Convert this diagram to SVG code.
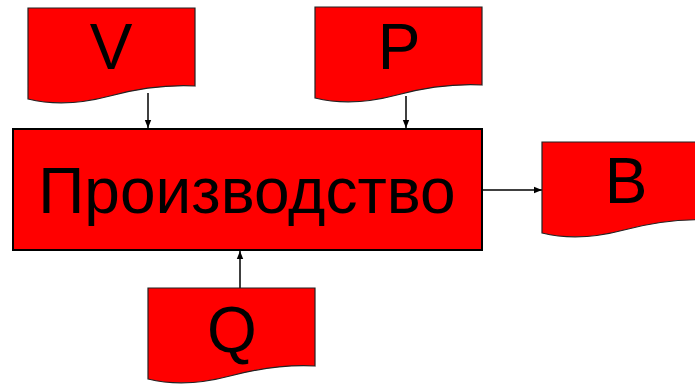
<svg xmlns="http://www.w3.org/2000/svg" width="695" height="387" viewBox="0 0 695 387">
<style>
.doc{fill:#ff0000;stroke:#222;stroke-width:1.2}
.box{fill:#ff0000;stroke:#000;stroke-width:2}
.lbl{font-family:"Liberation Sans",Arial,sans-serif;font-size:64px;fill:#000;text-anchor:middle}
.conn{stroke:#000;stroke-width:1.5;fill:none;marker-end:url(#ah)}
</style>
<defs>
<path id="docshape" d="M0,0 H167 V78 Q127,76 82,88 Q37,100 0,91 Z"/>
<marker id="ah" viewBox="0 0 10 10" refX="10" refY="5" markerWidth="8" markerHeight="8" markerUnits="userSpaceOnUse" orient="auto">
<path d="M0,1 L10,5 L0,9 Z" fill="#000"/>
</marker>
</defs>
<rect width="695" height="387" fill="#fff"/>
<g id="connectors">
<line class="conn" x1="148" y1="93" x2="148" y2="128"/>
<line class="conn" x1="406" y1="96" x2="406" y2="128"/>
<line class="conn" x1="483" y1="190" x2="542" y2="190"/>
<line class="conn" x1="240" y1="288" x2="240" y2="251"/>
</g>
<g id="V">
<use href="#docshape" class="doc" transform="translate(28,8)"/>
<text class="lbl" x="111" y="69">V</text>
</g>
<g id="P">
<use href="#docshape" class="doc" transform="translate(315,7)"/>
<text class="lbl" x="399" y="69">P</text>
</g>
<g id="prod">
<rect class="box" x="13" y="129" width="469" height="121"/>
<text class="lbl" x="247" y="213">Производство</text>
</g>
<g id="B">
<use href="#docshape" class="doc" transform="translate(542,142)"/>
<text class="lbl" x="626" y="203">B</text>
</g>
<g id="Q">
<use href="#docshape" class="doc" transform="translate(148,288)"/>
<text class="lbl" x="232" y="352">Q</text>
</g>
</svg>
